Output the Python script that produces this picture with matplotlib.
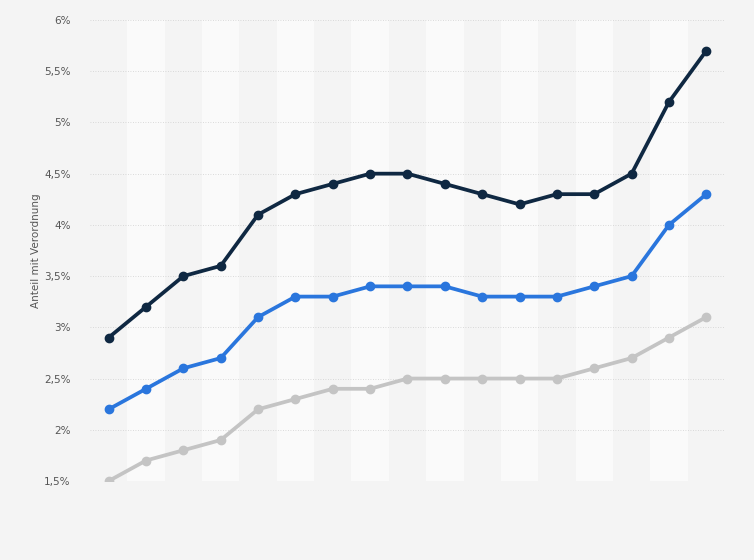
import matplotlib
matplotlib.use("Agg")
import matplotlib.pyplot as plt

x = list(range(17))
dark = [2.9, 3.2, 3.5, 3.6, 4.1, 4.3, 4.4, 4.5, 4.5, 4.4, 4.3, 4.2, 4.3, 4.3, 4.5, 5.2, 5.7]
blue = [2.2, 2.4, 2.6, 2.7, 3.1, 3.3, 3.3, 3.4, 3.4, 3.4, 3.3, 3.3, 3.3, 3.4, 3.5, 4.0, 4.3]
gray = [1.5, 1.7, 1.8, 1.9, 2.2, 2.3, 2.4, 2.4, 2.5, 2.5, 2.5, 2.5, 2.5, 2.6, 2.7, 2.9, 3.1]
yticks = [1.5, 2, 2.5, 3, 3.5, 4, 4.5, 5, 5.5, 6]
ylabels = ["1,5%", "2%", "2,5%", "3%", "3,5%", "4%", "4,5%", "5%", "5,5%", "6%"]

fig = plt.figure(figsize=(7.54, 5.60), dpi=100, facecolor="#f4f4f4")
ax = fig.add_axes([90/754, 1-481/560, 635/754, 461/560])
ax.set_facecolor("#f4f4f4")

for i in x:
    if i % 2 == 1:
        ax.axvspan(i - 0.5, i + 0.5, color="#fafafa", zorder=0, lw=0)

for y in yticks:
    ax.axhline(y, color="#d0d0d0", lw=0.6, ls=(0, (1, 2)), zorder=1)

for data, col in [(gray, "#c4c4c4"), (blue, "#2a76dd"), (dark, "#0f2842")]:
    ax.plot(x, data, color=col, lw=2.7, marker="o", ms=6, zorder=3)

ax.set_xlim(-0.5, 16.5)
ax.set_ylim(1.5, 6)
ax.set_xticks([])
ax.set_yticks(yticks)
ax.set_yticklabels(ylabels, fontsize=7.5, color="#555555")
ax.tick_params(axis="y", length=0, pad=14)
for s in ax.spines.values():
    s.set_visible(False)
ax.set_ylabel("Anteil mit Verordnung", fontsize=7.5, color="#555555", labelpad=2)

fig.savefig("out.png", dpi=100, facecolor=fig.get_facecolor())
